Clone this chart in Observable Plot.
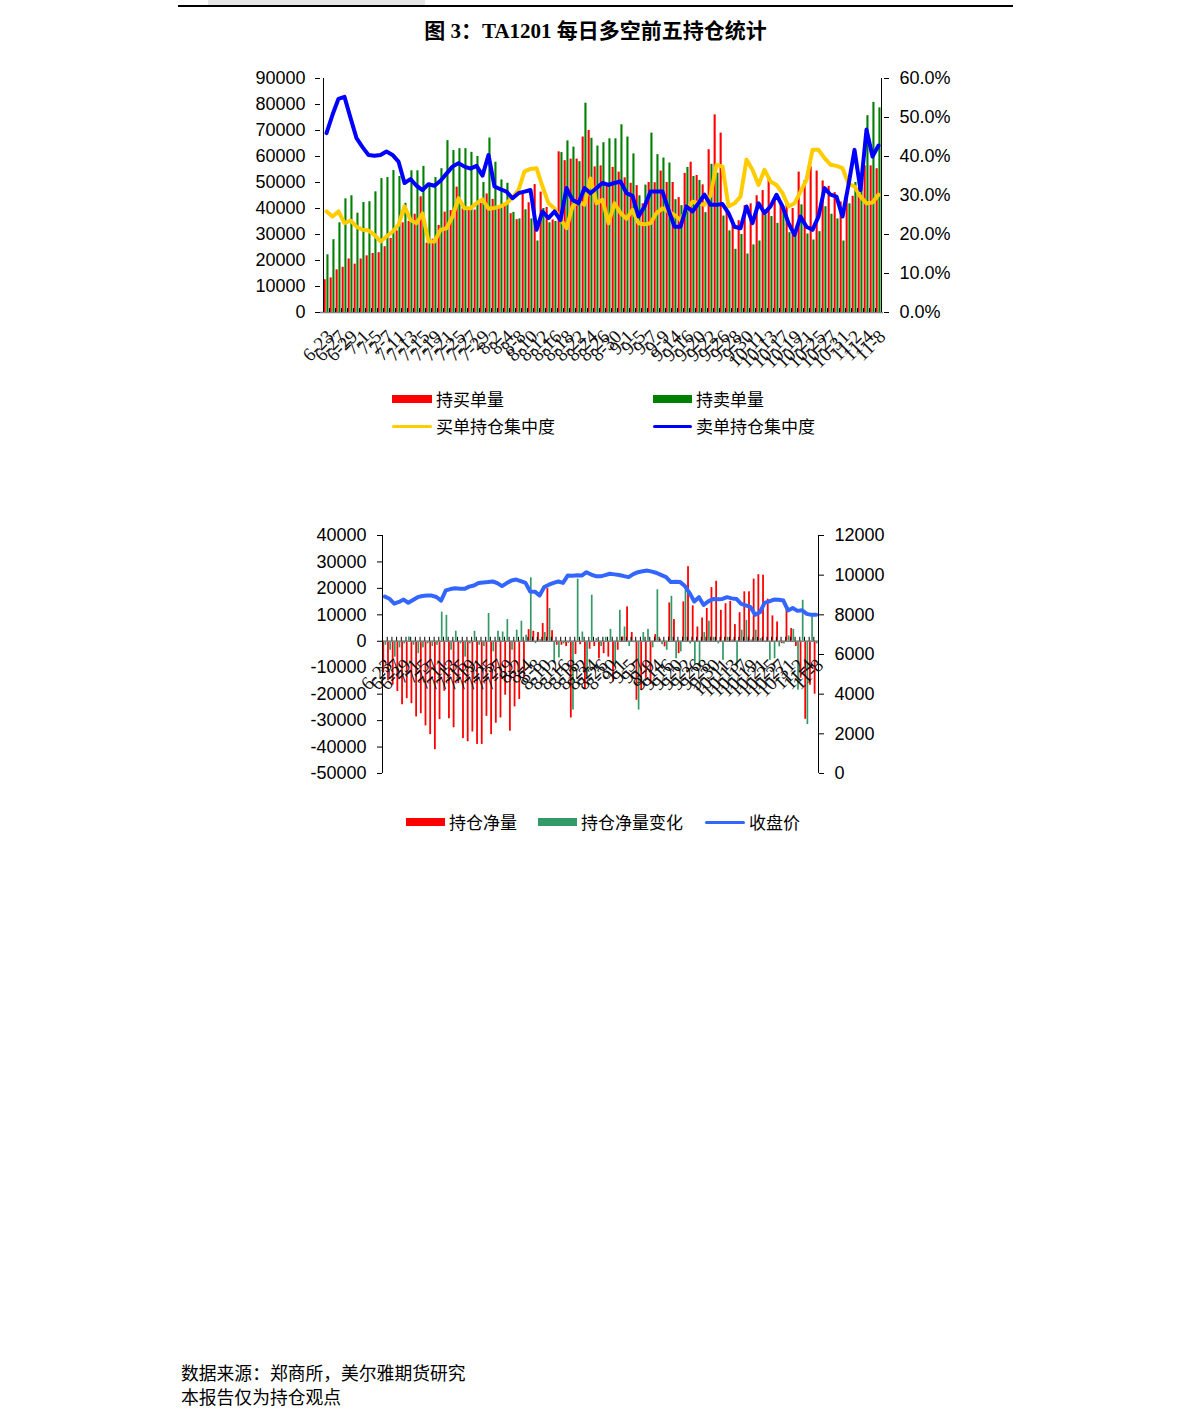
<!DOCTYPE html>
<html><head><meta charset="utf-8">
<script src="https://cdn.jsdelivr.net/npm/d3@7"></script>
<script src="https://cdn.jsdelivr.net/npm/@observablehq/plot@0.6"></script>
<style>
body{margin:0;background:#fff;width:1191px;height:1427px;position:relative;overflow:hidden;font-family:"Liberation Sans",Arial,sans-serif;color:#000}
.abs{position:absolute}
.title{left:0;width:1191px;top:17px;text-align:center;font:bold 21px "Liberation Serif","Noto Sans CJK SC",serif;line-height:28px}
.lg{font:17px "Noto Sans CJK SC",sans-serif;line-height:22px;white-space:nowrap}
.sw{position:absolute}
.foot{left:181px;font:17.8px "Noto Sans CJK SC",sans-serif;line-height:24px;white-space:nowrap}
</style></head><body>
<div class="abs" style="left:208px;top:0;width:217px;height:5px;background:#e6e6e6"></div>
<div class="abs" style="left:178px;top:5px;width:835px;height:2px;background:#000"></div>
<div class="abs title">图 3：TA1201 每日多空前五持仓统计</div>
<div id="c1" class="abs" style="left:0;top:60px"></div>
<div id="lg1"></div>
<div id="c2" class="abs" style="left:0;top:520px"></div>
<div id="lg2"></div>
<div class="abs foot" style="top:1360px">数据来源：郑商所，美尔雅期货研究</div>
<div class="abs foot" style="top:1384px">本报告仅为持仓观点</div>
<script>
// ---- data ----
const dates = ["6-23","6-24","6-27","6-28","6-29","6-30",
"7-1","7-4","7-5","7-6","7-7","7-8","7-11","7-12","7-13","7-14","7-15","7-18","7-19","7-20","7-21","7-22","7-25","7-26","7-27","7-28","7-29",
"8-1","8-2","8-3","8-4","8-5","8-8","8-9","8-10","8-11","8-12","8-15","8-16","8-17","8-18","8-19","8-22","8-23","8-24","8-25","8-26","8-29","8-30","8-31",
"9-1","9-2","9-5","9-6","9-7","9-8","9-9","9-13","9-14","9-15","9-16","9-19","9-20","9-21","9-22","9-23","9-26","9-27","9-28","9-29","9-30",
"10-10","10-11","10-12","10-13","10-14","10-17","10-18","10-19","10-20","10-21","10-24","10-25","10-26","10-27","10-28","10-31",
"11-1","11-2","11-3","11-4","11-7","11-8"];

// 持买单量
const buyVol = [12600,13300,16400,17400,20600,18600,20600,21800,22700,23000,
25300,28500,31400,34500,35000,37800,44500,26700,28200,33500,
38600,39200,48200,39900,39900,39400,42000,45600,43500,40400,
41000,38000,35700,46000,42200,49200,46300,40400,35600,61800,
58400,59000,59000,67500,70000,56000,56400,48600,55800,54000,
51800,49700,48800,41800,50000,49900,54400,50000,50000,44200,
53500,57800,52700,49100,62600,76000,69000,38800,35600,35300,
41100,41800,44900,46900,51400,44200,42000,42700,40000,54000,
50800,56000,54400,50600,48500,46100,42500,44000,44700,47900,
56400,56400,55300];
// 持卖单量
const sellVol = [22200,28000,34500,43700,44900,38200,42300,42600,46400,51500,
51900,54600,52300,42000,54500,54500,56200,48500,51900,55300,
66100,62300,63000,63000,61600,60000,50000,67100,57800,51000,
49700,38500,36000,39500,36000,27500,40000,34500,35000,61500,
66000,63600,58000,80500,67000,64000,65300,66800,66800,72200,
67500,61000,44900,49000,69000,60700,59400,57500,43400,41100,
55800,52300,50800,38400,57000,53600,37100,31400,24300,30000,
22500,26000,27500,37500,36900,34300,40700,30700,30200,41400,
30200,27900,31100,40700,37800,36000,27500,41800,50000,52000,
75700,80800,78700];
// 买单持仓集中度 (%)
const buyConc = [25.9,24.6,25.9,22.9,23.6,22.0,21.2,21.0,19.9,18.2,
19.5,20.7,22.5,27.2,23.7,22.9,25.4,18.2,18.2,21.2,
21.6,24.6,29.3,26.7,26.7,28.0,29.0,26.6,26.8,27.2,
28.0,29.5,31.4,36.2,36.8,37.0,32.3,28.0,26.7,24.0,
21.6,27.2,28.5,27.6,34.4,28.0,28.9,22.9,28.0,25.5,
24.0,26.3,22.9,22.6,22.9,25.5,26.7,25.9,25.0,23.7,
26.5,28.4,28.0,27.6,30.0,37.9,37.4,27.2,28.0,29.7,
39.2,36.6,32.7,36.6,33.6,32.7,30.6,27.2,28.0,31.0,
34.0,41.7,41.7,39.6,37.9,37.6,37.0,33.0,32.3,29.7,
28.0,28.2,30.2];
// 卖单持仓集中度 (%)
const sellConc = [46.0,50.7,54.8,55.3,49.9,44.7,42.4,40.4,40.2,40.4,
41.3,40.4,38.7,33.2,34.2,32.5,31.4,32.9,32.5,33.8,
35.6,37.4,38.3,37.4,36.9,37.6,35.1,40.4,32.3,31.6,
31.0,29.3,30.6,31.0,31.4,21.2,25.9,24.2,25.9,23.7,
31.9,28.9,28.0,31.9,30.6,31.9,33.2,32.7,33.2,33.6,
30.6,29.9,24.6,27.2,31.0,31.0,31.0,26.3,22.0,22.0,
27.2,25.9,28.0,30.2,27.6,27.6,27.8,25.5,22.0,21.6,
27.2,22.9,28.0,25.5,27.2,30.2,27.2,22.9,19.9,24.6,
22.0,21.2,24.6,31.9,30.2,29.7,24.6,32.7,41.7,31.4,
46.9,40.0,42.8];

// 持仓净量
const netPos = [-12000,-15000,-16600,-19000,-24000,-21700,-23600,-28600,-27400,-32000,
-35300,-41000,-29600,-18900,-29300,-32700,-16000,-36800,-38000,-34300,
-39000,-39000,-28400,-35300,-31000,-29000,-20400,-34000,-24800,-22000,
-14000,4400,3800,3300,6700,20000,4000,-1500,-1500,-2000,
-29000,-5000,-1300,-18000,-3000,-2000,-6600,-4700,-6000,-15400,
-3400,1600,13000,3300,-22300,-18500,-14000,-16400,2500,800,
-2100,14500,8200,-4700,14900,28200,13400,5400,8800,12400,
20300,22700,11700,14200,15100,6300,10800,18700,18700,23500,
25200,25000,15900,9600,7300,-900,12400,4800,-2000,-14000,
-29500,-16600,-20000];
// 持仓净量变化
const netChg = [-1500,-3400,-6000,-2500,-1000,1600,-1500,-4700,-2500,-1000,
-2000,-1500,11000,9800,-3400,3800,-1000,-6000,-1000,3800,
-1500,-2000,10500,-4000,3800,3500,8200,-3400,4200,7600,
2300,24000,-900,600,3300,12400,-8400,-6300,-1000,-800,
-26000,23500,3500,-14000,17400,1000,-2000,1500,4500,-9000,
11700,5400,-2000,-500,-26000,3300,4500,-2500,19500,-1300,
-3400,17000,-6600,-4000,19300,-1000,-9000,-9000,3300,7600,
1500,-1000,-7200,1500,500,-9000,4200,7900,500,4200,
1000,-500,-7200,-6600,-2100,-1000,2000,4500,-18500,15500,
-31500,10000,-1000];
// 收盘价
const closePrice = [8920,8810,8560,8650,8770,8610,8750,8890,8950,8970,
8970,8900,8720,9230,9300,9340,9320,9310,9420,9480,
9610,9630,9650,9680,9600,9450,9600,9730,9780,9700,
9610,9180,9170,8980,9400,9520,9610,9680,9610,9980,
9970,9990,9980,10150,10030,9950,9940,10000,10070,10040,
10010,9950,9900,10050,10150,10200,10230,10180,10110,10000,
9900,9650,9670,9650,9450,9100,8670,8890,8500,8680,
8800,8780,8800,8890,8830,8800,8550,8480,8390,8000,
8130,8600,8680,8770,8760,8720,8220,8340,8200,8230,
8050,8000,8000];

const leftTicks1 = [0,10000,20000,30000,40000,50000,60000,70000,80000,90000];
const rightTicks1 = [0,10,20,30,40,50,60];
const leftTicks2 = [-50000,-40000,-30000,-20000,-10000,0,10000,20000,30000,40000];
const rightTicks2 = [0,2000,4000,6000,8000,10000,12000];

const legend1 = [
  {name:"持买单量", color:"#ff0000", kind:"bar"},
  {name:"持卖单量", color:"#008000", kind:"bar"},
  {name:"买单持仓集中度", color:"#ffcc00", kind:"line"},
  {name:"卖单持仓集中度", color:"#0000ff", kind:"line"}];
const legend2 = [
  {name:"持仓净量", color:"#ff0000", kind:"bar"},
  {name:"持仓净量变化", color:"#339966", kind:"bar"},
  {name:"收盘价", color:"#3366ff", kind:"line"}];

// ---- build ----
const rows1 = dates.map((d,i)=>({d, buy:buyVol[i], sell:sellVol[i], bc:buyConc[i], sc:sellConc[i]}));
const rows2 = dates.map((d,i)=>({d, net:netPos[i], chg:netChg[i], px:closePrice[i]}));
const labelDates = dates.filter((d,i)=>i%2===0);
const PCT = 90000/60;              // right-axis % mapped onto left scale
const PX0 = -50000, PXK = 90000/12000; // price mapped onto left scale

const baseStyle = {fontFamily:"Liberation Sans, Arial, sans-serif", fontSize:"18px", color:"#000", background:"transparent", overflow:"visible"};

const c1 = Plot.plot({
  width:1191, height:322,
  marginLeft:320, marginRight:308, marginTop:18, marginBottom:70,
  style: baseStyle,
  x:{type:"band", domain:dates, padding:0, axis:null},
  y:{domain:[0,90000], axis:null},
  marks:[
    Plot.barY(rows1,{x:"d", y:"buy", fill:"#ff0000", insetLeft:0.6, insetRight:3.3}),
    Plot.barY(rows1,{x:"d", y:"sell", fill:"#008000", insetLeft:3.4, insetRight:0.5}),
    Plot.ruleY([0],{stroke:"#808080", strokeWidth:1.5}),
    Plot.ruleX(dates,{x:d=>d, y1:0, y2:1500, stroke:"#000", dx:-3}),
    Plot.line(rows1,{x:"d", y:r=>r.bc*PCT, stroke:"#ffcc00", strokeWidth:4, strokeLinejoin:"round"}),
    Plot.line(rows1,{x:"d", y:r=>r.sc*PCT, stroke:"#0000ff", strokeWidth:4, strokeLinejoin:"round"}),
    Plot.ruleX([dates[0]],{x:d=>d, y1:0, y2:90000, dx:-3.03, stroke:"#000"}),
    Plot.ruleX([dates[dates.length-1]],{x:d=>d, y1:0, y2:90000, dx:3.03, stroke:"#000"}),
    Plot.axisY({anchor:"left", ticks:leftTicks1, tickFormat:d=>String(d), tickSize:5, tickPadding:10, fontSize:18}),
    Plot.axisY({anchor:"right", ticks:rightTicks1.map(p=>p*PCT), tickFormat:d=>(d/PCT).toFixed(1)+"%", tickSize:5, tickPadding:11, fontSize:18}),
    Plot.text(labelDates,{x:d=>d, y:0, text:d=>d, rotate:-45, textAnchor:"end", dy:21, dx:4, fontFamily:"Liberation Serif, serif", fontSize:19, fill:"#111"})
  ]
});
document.getElementById("c1").appendChild(c1);

const c2 = Plot.plot({
  width:1191, height:263,
  marginLeft:382, marginRight:373, marginTop:15, marginBottom:10,
  style: baseStyle,
  x:{type:"band", domain:dates, padding:0, axis:null},
  y:{domain:[-50000,40000], axis:null},
  marks:[
    Plot.barY(rows2,{x:"d", y:"net", fill:"#ff0000", insetLeft:0.4, insetRight:2.5}),
    Plot.barY(rows2,{x:"d", y:"chg", fill:"#339966", insetLeft:2.6, insetRight:0.4}),
    Plot.ruleY([0],{stroke:"#808080", strokeWidth:1.5}),
    Plot.ruleX(dates,{x:d=>d, y1:0, y2:1500, stroke:"#000", dx:-2.3}),
    Plot.line(rows2,{x:"d", y:r=>PX0 + r.px*PXK, stroke:"#3366ff", strokeWidth:4, strokeLinejoin:"round"}),
    Plot.ruleX([dates[0]],{x:d=>d, y1:-50000, y2:40000, dx:-2.35, stroke:"#000"}),
    Plot.ruleX([dates[dates.length-1]],{x:d=>d, y1:-50000, y2:40000, dx:2.35, stroke:"#000"}),
    Plot.axisY({anchor:"left", ticks:leftTicks2, tickFormat:d=>String(d), tickSize:5, tickPadding:11, fontSize:18}),
    Plot.axisY({anchor:"right", ticks:rightTicks2.map(p=>PX0+p*PXK), tickFormat:d=>String(Math.round((d-PX0)/PXK)), tickSize:5, tickPadding:11, fontSize:18}),
    Plot.text(labelDates,{x:d=>d, y:0, text:d=>d, rotate:-45, textAnchor:"end", dy:21, dx:4, fontFamily:"Liberation Serif, serif", fontSize:19, fill:"#111"})
  ]
});
document.getElementById("c2").appendChild(c2);

// ---- legends ----
function legend(el, items, pos){
  items.forEach((it,k)=>{
    const p = pos[k];
    const sw = document.createElement("div");
    sw.className="sw";
    const h = it.kind==="bar"?8:3;
    sw.style.cssText=`left:${p.x}px;top:${p.y-h/2}px;width:${p.w}px;height:${h}px;background:${it.color};border-radius:${it.kind==="line"?2:0}px`;
    el.appendChild(sw);
    const t = document.createElement("div");
    t.className="abs lg"; t.textContent=it.name;
    t.style.left=(p.x+p.w+4)+"px"; t.style.top=(p.y-11)+"px";
    el.appendChild(t);
  });
}
legend(document.getElementById("lg1"), legend1, [
  {x:392,y:399,w:40},{x:653,y:399,w:39},{x:392,y:426,w:40},{x:653,y:426,w:39}]);
legend(document.getElementById("lg2"), legend2, [
  {x:406,y:822,w:39},{x:538,y:822,w:39},{x:705,y:822,w:40}]);
</script>
</body></html>
